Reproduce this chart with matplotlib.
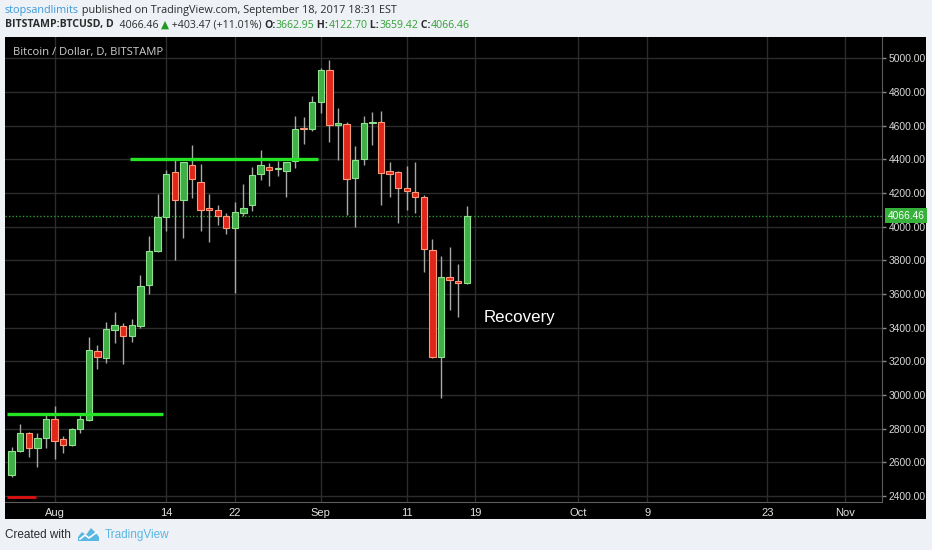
import matplotlib
matplotlib.use('Agg')
import matplotlib.pyplot as plt
import matplotlib.dates as mdates
import matplotlib.transforms as mtransforms
from matplotlib.patches import Rectangle, Polygon
import numpy as np
import pandas as pd

W, H = 932, 550

# daily BTCUSD candles, Jul 27 - Sep 18 2017
dates = pd.date_range('2017-07-27', '2017-09-18', freq='D')
opens = [2524, 2669, 2776, 2683, 2744, 2855, 2737, 2705, 2796, 2851,
         3264, 3219, 3387, 3411, 3348, 3411, 3653, 3857, 4056, 4327,
         4159, 4369, 4266, 4108, 4099, 4064, 3990, 4083, 4130, 4315,
         4356, 4340, 4329, 4389, 4585, 4578, 4742, 4930, 4605, 4611,
         4288, 4405, 4615, 4619, 4333, 4326, 4230, 4207, 4175, 3863,
         3228, 3704, 3675, 3662.95]
highs = [2692, 2827, 2782, 2776, 2891, 2935, 2758, 2806, 2881, 3343,
         3296, 3435, 3494, 3427, 3451, 3714, 3942, 4196, 4335, 4409,
         4385, 4488, 4375, 4196, 4129, 4082, 4145, 4254, 4353, 4458,
         4379, 4391, 4387, 4657, 4651, 4774, 4940, 4988, 4707, 4620,
         4482, 4657, 4680, 4686, 4385, 4330, 4359, 4385, 4190, 3927,
         3823, 3879, 3780, 4122.70]
lows = [2514, 2660, 2634, 2574, 2683, 2623, 2657, 2700, 2772, 2845,
        3153, 3192, 3308, 3185, 3317, 3397, 3600, 3850, 3972, 3804,
        3933, 4171, 3972, 3909, 4008, 3958, 3605, 4061, 4091, 4280,
        4240, 4300, 4177, 4350, 4492, 4570, 4677, 4502, 4395, 4071,
        4000, 4369, 4484, 4131, 4175, 4022, 4101, 4082, 3728, 3219,
        2980, 3506, 3466, 3659.42]
closes = [2669, 2776, 2683, 2744, 2855, 2728, 2705, 2796, 2857, 3268,
          3225, 3391, 3415, 3348, 3415, 3649, 3857, 4058, 4315, 4159,
          4385, 4283, 4101, 4102, 4064, 3990, 4089, 4113, 4310, 4366,
          4338, 4345, 4385, 4583, 4578, 4742, 4933, 4605, 4615, 4284,
          4399, 4615, 4620, 4320, 4314, 4230, 4210, 4175, 3867, 3228,
          3704, 3684, 3665, 4066.46]

last_price = 4066.46

# drawn levels: (price, start date, end date)
upper_level = (4400, '2017-08-09 18:00', '2017-08-31 16:00')
lower_level = (2890, '2017-07-26 10:00', '2017-08-13 16:00')
red_mark = (2392, '2017-07-26 10:00', '2017-07-29 20:00')

tick_dates = ['2017-08-01', '2017-08-14', '2017-08-22', '2017-09-01', '2017-09-11',
              '2017-09-19', '2017-10-01', '2017-10-09', '2017-10-23', '2017-11-01']
tick_labels = ['Aug', '14', '22', 'Sep', '11', '19', 'Oct', '9', '23', 'Nov']
price_ticks = list(range(2400, 5001, 200))

UP_FILL, UP_EDGE = '#3fae46', '#8ee28e'
DN_FILL, DN_EDGE = '#e0261b', '#ff9a78'
LEVEL_GREEN = '#25e325'

plt.rcParams['font.family'] = ['Liberation Sans Narrow', 'Liberation Sans', 'DejaVu Sans']

fig = plt.figure(figsize=(W / 100, H / 100), dpi=100, facecolor='#eef1f6')

# black chart panel behind the axes (includes the price scale)
fig.add_artist(Rectangle((5.3 / W, 1 - 518.7 / H), (926 - 5.3) / W, (518.7 - 37.3) / H,
                         transform=fig.transFigure, fc='black', ec='none', zorder=-1))

ax = fig.add_axes([5.3 / W, 1 - 502.3 / H, (881.7 - 5.3) / W, (502.3 - 37.3) / H],
                  facecolor='black')

x = mdates.date2num(dates)
o = np.array(opens, dtype=float)
c = np.array(closes, dtype=float)
up = c >= o

ax.vlines(x, lows, highs, color='#a8a8a8', lw=1, zorder=2)
body_low = np.minimum(o, c)
body_h = np.maximum(np.abs(c - o), 7)
ax.bar(x[up], body_h[up], bottom=body_low[up], width=0.74,
       color=UP_FILL, edgecolor=UP_EDGE, linewidth=0.8, zorder=3)
ax.bar(x[~up], body_h[~up], bottom=body_low[~up], width=0.74,
       color=DN_FILL, edgecolor=DN_EDGE, linewidth=0.8, zorder=3)

for (lvl, d0, d1), col, lw in [(upper_level, LEVEL_GREEN, 2.4),
                               (lower_level, LEVEL_GREEN, 2.4),
                               (red_mark, '#e01010', 2.0)]:
    ax.hlines(lvl, mdates.date2num(pd.Timestamp(d0)), mdates.date2num(pd.Timestamp(d1)),
              color=col, lw=lw, zorder=4)

ax.axhline(last_price, color='#2f9a2f', ls=(0, (1, 1.5)), lw=1, zorder=1)

x0 = mdates.date2num(pd.Timestamp('2017-08-01'))
ax.set_xlim(x0 - 5.73, x0 + 96.3)
ax.set_ylim(2363, 5125)

ax.set_xticks(mdates.date2num(pd.to_datetime(tick_dates)))
ax.set_xticklabels(tick_labels)
ax.set_yticks(price_ticks)
ax.set_yticklabels([f'{p:.2f}' for p in price_ticks])
ax.yaxis.tick_right()
ax.grid(True, color='#2c2c2c', lw=1, zorder=0)
ax.set_axisbelow(True)

for side in ['top', 'left']:
    ax.spines[side].set_visible(False)
for side in ['right', 'bottom']:
    ax.spines[side].set_color('#5c5c5c')
ax.tick_params(axis='y', length=3, width=1, color='#8a8a8a', labelcolor='#d8d8d8',
               labelsize=7.4, pad=2)
ax.tick_params(axis='x', length=0, pad=4, labelcolor='#e2e2e2', labelsize=8)

# last price tag on the scale
ax.text(1 + 6 / 876.4, last_price, f'{last_price:.2f}', color='white', fontsize=7.4,
        va='center', ha='left', clip_on=False, zorder=6,
        transform=mtransforms.blended_transform_factory(ax.transAxes, ax.transData),
        bbox=dict(boxstyle='square,pad=0.25', fc='#36b13a', ec='none'))

ax.text(0.009, 0.967, 'Bitcoin / Dollar, D, BITSTAMP', transform=ax.transAxes,
        color='#cfcfcf', fontsize=8.1, family=['Open Sans', 'DejaVu Sans'],
        va='center', ha='left')

ax.text(mdates.date2num(pd.Timestamp('2017-09-20')), 3460, 'Recovery', color='white',
        fontsize=12.2, family=['Liberation Sans', 'DejaVu Sans'], va='center', ha='left')

# header lines, pieces laid out one after another
renderer = fig.canvas.get_renderer()


def text_width(s, size, weight, family):
    t1 = fig.text(0, 0, '|' + s + '|', fontsize=size, fontweight=weight, family=family)
    t2 = fig.text(0, 0, '||', fontsize=size, fontweight=weight, family=family)
    w = t1.get_window_extent(renderer).width - t2.get_window_extent(renderer).width
    t1.remove()
    t2.remove()
    return w


def put_parts(x_px, y_px, parts, size, family):
    for s, color, weight in parts:
        fig.text(x_px / W, 1 - y_px / H, s, color=color, fontsize=size,
                 fontweight=weight, family=family, va='center', ha='left')
        x_px += text_width(s, size, weight, family)


hdr_font = ['Open Sans', 'DejaVu Sans']
dark = '#2b2b2b'
green = '#33a033'
put_parts(5, 10, [('stopsandlimits', '#3c9ad8', 'normal'),
                  (' published on TradingView.com, September 18, 2017 18:31 EST', dark, 'normal')],
          7.8, hdr_font)
put_parts(5, 25, [('BITSTAMP:BTCUSD, D', dark, 'bold'),
                  ('  4066.46 ', dark, 'normal'),
                  ('▲', '#1f9a1f', 'normal'),
                  (' +403.47 (+11.01%) ', dark, 'normal'),
                  ('O:', dark, 'bold'), ('3662.95', green, 'normal'),
                  (' H:', dark, 'bold'), ('4122.70', green, 'normal'),
                  (' L:', dark, 'bold'), ('3659.42', green, 'normal'),
                  (' C:', dark, 'bold'), ('4066.46', green, 'normal')],
          7.6, hdr_font)

# footer
fig.text(5 / W, 1 - 535 / H, 'Created with', color='#2b2b2b', fontsize=8.5, va='center', ha='left')
logo = [(78, 541), (78, 537), (82, 532), (86, 535), (91, 528), (96, 533), (99, 537), (99, 541)]
fig.add_artist(Polygon([(px / W, 1 - py / H) for px, py in logo], closed=True,
                       transform=fig.transFigure, fc='#5ab6e2', ec='none'))
fig.add_artist(plt.Line2D([80 / W, 85 / W, 89 / W, 97 / W],
                          [1 - 539 / H, 1 - 535 / H, 1 - 538 / H, 1 - 532 / H],
                          transform=fig.transFigure, color='white', lw=1.2))
fig.text(105 / W, 1 - 535 / H, 'TradingView', color='#5ab6e2', fontsize=8.5, va='center', ha='left')

fig.savefig('out.png', dpi=100, facecolor=fig.get_facecolor())
